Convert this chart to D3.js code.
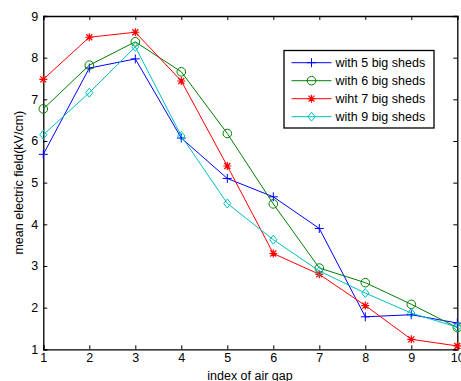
<!DOCTYPE html>
<html><head><meta charset="utf-8">
<script src="https://cdn.jsdelivr.net/npm/d3@7"></script>
<style>body{margin:0;background:#fff}svg{display:block}text{font-family:"Liberation Sans",Arial,sans-serif;font-size:12.5px;fill:#000}</style>
</head><body>
<svg id="c" width="461" height="381"></svg>
<script>
const xIdx = [1,2,3,4,5,6,7,8,9,10];
const xTicks = [1,2,3,4,5,6,7,8,9,10];
const yTicks = [1,2,3,4,5,6,7,8,9];
const s5 = [5.68,7.75,7.97,6.07,5.10,4.66,3.90,1.78,1.83,1.63];
const s6 = [6.77,7.82,8.38,7.66,6.18,4.49,2.95,2.60,2.08,1.52];
const s7 = [7.48,8.49,8.61,7.44,5.40,3.30,2.80,2.05,1.24,1.08];
const s9 = [6.15,7.16,8.26,6.12,4.50,3.63,2.88,2.35,1.87,1.53];
const names = ["with 5 big sheds","with 6 big sheds","wiht 7 big sheds","with 9 big sheds"];
const colors = ["#0000ff","#008000","#ff0000","#00bfbf"];
const markers = ["plus","circle","star","diamond"];
const series = [s5,s6,s7,s9];

const svg = d3.select("#c");
const L=43.3, R=457.3, T=16, B=349.3;
const x = d3.scaleLinear().domain([1,10]).range([L,R]);
const y = d3.scaleLinear().domain([1,9]).range([B,T]);

const ax = d3.axisBottom(x).tickValues(xTicks).tickSize(-4).tickPadding(4).tickFormat(d3.format("d"));
const gx = svg.append("g").attr("transform",`translate(0,${B})`).call(ax);
const axt = d3.axisTop(x).tickValues(xTicks).tickSize(-4).tickFormat("");
const gxt = svg.append("g").attr("transform",`translate(0,${T})`).call(axt);
const ay = d3.axisLeft(y).tickValues(yTicks).tickSize(-4).tickPadding(5).tickFormat(d3.format("d"));
const gy = svg.append("g").attr("transform",`translate(${L},0)`).call(ay);
const ayr = d3.axisRight(y).tickValues(yTicks).tickSize(-4).tickFormat("");
const gyr = svg.append("g").attr("transform",`translate(${R},0)`).call(ayr);
[gx,gxt,gy,gyr].forEach(g=>{
  g.select(".domain").attr("stroke","#000").attr("stroke-width",1.3);
  g.selectAll(".tick line").attr("stroke","#000");
  g.selectAll("text").style("font-size","12.5px").style("font-family","'Liberation Sans',Arial,sans-serif").attr("fill","#000");
});

function drawMarker(g, type, cx, cy, col){
  if(type==="plus"){
    g.append("path").attr("d",`M${cx-4.5},${cy}H${cx+4.5}M${cx},${cy-4.5}V${cy+4.5}`).attr("stroke",col).attr("fill","none");
  } else if(type==="circle"){
    g.append("circle").attr("cx",cx).attr("cy",cy).attr("r",4.3).attr("stroke",col).attr("fill","none");
  } else if(type==="star"){
    const r=4;
    g.append("path").attr("d",`M${cx-r},${cy}H${cx+r}M${cx},${cy-r}V${cy+r}M${cx-r*0.75},${cy-r*0.75}L${cx+r*0.75},${cy+r*0.75}M${cx-r*0.75},${cy+r*0.75}L${cx+r*0.75},${cy-r*0.75}`).attr("stroke",col).attr("stroke-width",1.2).attr("fill","none");
  } else {
    const r=4.5;
    g.append("path").attr("d",`M${cx},${cy-r}L${cx+r*0.8},${cy}L${cx},${cy+r}L${cx-r*0.8},${cy}Z`).attr("stroke",col).attr("fill","none");
  }
}

const line = d3.line().x((d,i)=>x(xIdx[i])).y(d=>y(d));
series.forEach((s,k)=>{
  const g = svg.append("g");
  g.append("path").datum(s).attr("d",line).attr("fill","none").attr("stroke",colors[k]).attr("stroke-width",1);
  s.forEach((v,i)=>drawMarker(g,markers[k],x(xIdx[i]),y(v),colors[k]));
});

const lg = svg.append("g");
lg.append("rect").attr("x",284).attr("y",50.5).attr("width",150).attr("height",77.5).attr("fill","#fff").attr("stroke","#000").attr("stroke-width",1.3);
names.forEach((n,k)=>{
  const yy = 62.7 + k*18;
  lg.append("line").attr("x1",291.5).attr("x2",331.5).attr("y1",yy).attr("y2",yy).attr("stroke",colors[k]);
  drawMarker(lg,markers[k],311.5,yy,colors[k]);
  lg.append("text").attr("x",335.5).attr("y",yy).attr("dy","0.35em").text(n);
});

svg.append("text").attr("x",250).attr("y",380).attr("text-anchor","middle").text("index of air gap");
svg.append("text").attr("transform",`translate(23,${(T+B)/2}) rotate(-90)`).attr("text-anchor","middle").text("mean electric field(kV/cm)");
</script>
</body></html>
